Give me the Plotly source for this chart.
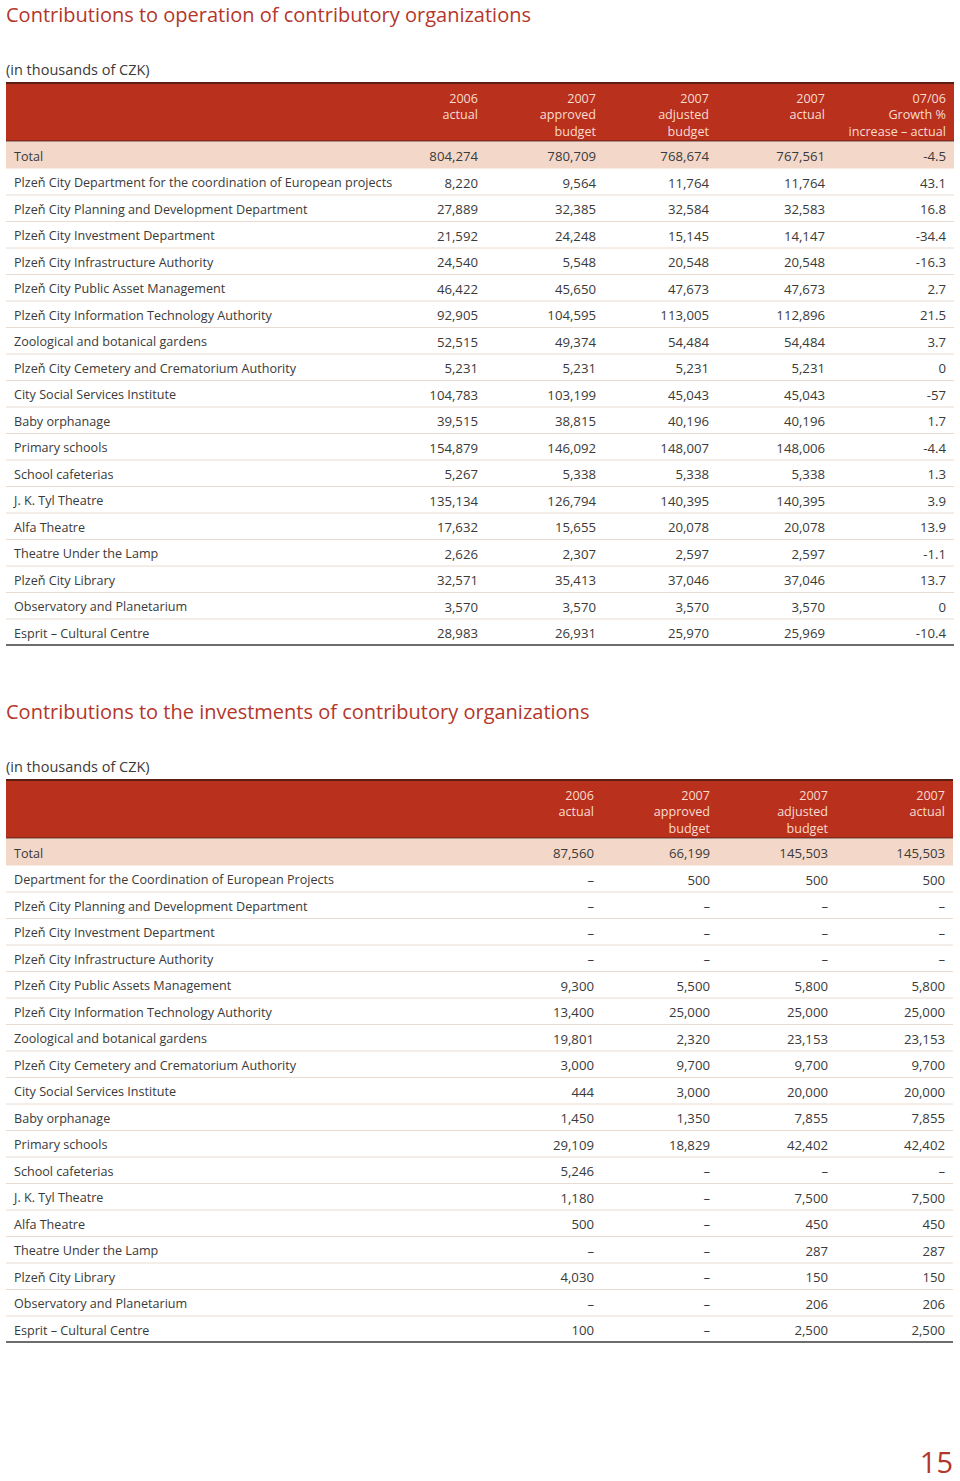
import plotly.graph_objects as go

# ---------------- data ----------------
title_op = "Contributions to operation of contributory organizations"
title_inv = "Contributions to the investments of contributory organizations"
unit_note = "(in thousands of CZK)"
page_number = "15"

headers_op = ["2006<br>actual", "2007<br>approved<br>budget", "2007<br>adjusted<br>budget",
              "2007<br>actual", "07/06<br>Growth %<br>increase – actual"]
labels_op = ["Total",
             "Plzeň City Department for the coordination of European projects",
             "Plzeň City Planning and Development Department",
             "Plzeň City Investment Department",
             "Plzeň City Infrastructure Authority",
             "Plzeň City Public Asset Management",
             "Plzeň City Information Technology Authority",
             "Zoological and botanical gardens",
             "Plzeň City Cemetery and Crematorium Authority",
             "City Social Services Institute",
             "Baby orphanage",
             "Primary schools",
             "School cafeterias",
             "J. K. Tyl Theatre",
             "Alfa Theatre",
             "Theatre Under the Lamp",
             "Plzeň City Library",
             "Observatory and Planetarium",
             "Esprit – Cultural Centre"]
actual_2006_op = [804274, 8220, 27889, 21592, 24540, 46422, 92905, 52515, 5231, 104783,
                  39515, 154879, 5267, 135134, 17632, 2626, 32571, 3570, 28983]
approved_2007_op = [780709, 9564, 32385, 24248, 5548, 45650, 104595, 49374, 5231, 103199,
                    38815, 146092, 5338, 126794, 15655, 2307, 35413, 3570, 26931]
adjusted_2007_op = [768674, 11764, 32584, 15145, 20548, 47673, 113005, 54484, 5231, 45043,
                    40196, 148007, 5338, 140395, 20078, 2597, 37046, 3570, 25970]
actual_2007_op = [767561, 11764, 32583, 14147, 20548, 47673, 112896, 54484, 5231, 45043,
                  40196, 148006, 5338, 140395, 20078, 2597, 37046, 3570, 25969]
growth_op = [-4.5, 43.1, 16.8, -34.4, -16.3, 2.7, 21.5, 3.7, 0, -57, 1.7, -4.4, 1.3, 3.9,
             13.9, -1.1, 13.7, 0, -10.4]

headers_inv = ["2006<br>actual", "2007<br>approved<br>budget", "2007<br>adjusted<br>budget",
               "2007<br>actual"]
labels_inv = ["Total",
              "Department for the Coordination of European Projects",
              "Plzeň City Planning and Development Department",
              "Plzeň City Investment Department",
              "Plzeň City Infrastructure Authority",
              "Plzeň City Public Assets Management",
              "Plzeň City Information Technology Authority",
              "Zoological and botanical gardens",
              "Plzeň City Cemetery and Crematorium Authority",
              "City Social Services Institute",
              "Baby orphanage",
              "Primary schools",
              "School cafeterias",
              "J. K. Tyl Theatre",
              "Alfa Theatre",
              "Theatre Under the Lamp",
              "Plzeň City Library",
              "Observatory and Planetarium",
              "Esprit – Cultural Centre"]
actual_2006_inv = [87560, None, None, None, None, 9300, 13400, 19801, 3000, 444, 1450,
                   29109, 5246, 1180, 500, None, 4030, None, 100]
approved_2007_inv = [66199, 500, None, None, None, 5500, 25000, 2320, 9700, 3000, 1350,
                     18829, None, None, None, None, None, None, None]
adjusted_2007_inv = [145503, 500, None, None, None, 5800, 25000, 23153, 9700, 20000, 7855,
                     42402, None, 7500, 450, 287, 150, 206, 2500]
actual_2007_inv = [145503, 500, None, None, None, 5800, 25000, 23153, 9700, 20000, 7855,
                   42402, None, 7500, 450, 287, 150, 206, 2500]

# ---------------- style ----------------
FONT = "Open Sans"
RED = "#b9301d"
TITLE_RED = "#b3372b"
HEAD_TXT = "#f8dccf"
TOTAL_FILL = "#f3d8ca"
SEP = "#e9dbd0"
TXT = "#3a3a3a"
LABEL_SIZE = 12.6
NUM_SIZE = 13.2
HEAD_SIZE = 12.6
ROW_H = 26.5
TXT_DY = 2.5

fig = go.Figure()
shapes = []


def fmt_int(v):
    return "–" if v is None else f"{v:,}"


def fmt_pct(v):
    return f"{v:g}"


def text_trace(xs, ys, texts, pos, size, color):
    fig.add_trace(go.Scatter(x=xs, y=ys, text=texts, mode="text", textposition=pos,
                             textfont=dict(family=FONT, size=size, color=color),
                             hoverinfo="skip", cliponaxis=False, showlegend=False))


def build_table(title, title_y, note_y, head_top, headers, col_right, labels, columns,
                left, right):
    text_trace([left], [title_y], [title], "middle right", 20, TITLE_RED)
    text_trace([left], [note_y], [unit_note], "middle right", 14.5, TXT)
    head_bot = head_top + 58
    shapes.append(dict(type="rect", xref="x", yref="y", x0=left, x1=right, y0=head_top,
                       y1=head_bot, fillcolor=RED, line=dict(width=0), layer="below"))
    shapes.append(dict(type="line", xref="x", yref="y", x0=left, x1=right, y0=head_top,
                       y1=head_top, line=dict(color="#5a2016", width=2)))
    shapes.append(dict(type="line", xref="x", yref="y", x0=left, x1=right, y0=head_bot,
                       y1=head_bot, line=dict(color="#5a2016", width=1)))
    for h, xr in zip(headers, col_right):
        parts = h.split("<br>")
        text_trace([xr] * len(parts),
                   [head_top + 14 + TXT_DY + 16.5 * j for j in range(len(parts))],
                   parts, "middle left", HEAD_SIZE, HEAD_TXT)
    body_top = head_bot + 1
    n = len(labels)
    ys = [body_top + ROW_H * (i + 0.5) + TXT_DY for i in range(n)]
    shapes.append(dict(type="rect", xref="x", yref="y", x0=left, x1=right, y0=body_top,
                       y1=body_top + ROW_H, fillcolor=TOTAL_FILL, line=dict(width=0),
                       layer="below"))
    for i in range(1, n - 1):
        yb = body_top + ROW_H * (i + 1)
        shapes.append(dict(type="line", xref="x", yref="y", x0=left, x1=right, y0=yb, y1=yb,
                           line=dict(color=SEP, width=1), layer="below"))
    yb = body_top + ROW_H * n - 0.5
    shapes.append(dict(type="line", xref="x", yref="y", x0=left, x1=right, y0=yb, y1=yb,
                       line=dict(color="#3c3c3c", width=1.5)))
    text_trace([left + 8] * n, ys, labels, "middle right", LABEL_SIZE, TXT)
    for (vals, f), xr in zip(columns, col_right):
        text_trace([xr] * n, ys, [f(v) for v in vals], "middle left", NUM_SIZE, TXT)


build_table(title_op, 17, 71, 83, headers_op, [478, 596, 709, 825, 946], labels_op,
            [(actual_2006_op, fmt_int), (approved_2007_op, fmt_int),
             (adjusted_2007_op, fmt_int), (actual_2007_op, fmt_int), (growth_op, fmt_pct)],
            6, 954)
build_table(title_inv, 714, 768, 780, headers_inv, [594, 710, 828, 945], labels_inv,
            [(actual_2006_inv, fmt_int), (approved_2007_inv, fmt_int),
             (adjusted_2007_inv, fmt_int), (actual_2007_inv, fmt_int)],
            6, 953)

text_trace([953], [1466], [page_number], "middle left", 29, TITLE_RED)

fig.update_layout(
    width=960, height=1481,
    margin=dict(l=0, r=0, t=0, b=0),
    paper_bgcolor="white", plot_bgcolor="white",
    xaxis=dict(range=[0, 960], visible=False, fixedrange=True),
    yaxis=dict(range=[1481, 0], visible=False, fixedrange=True),
    shapes=shapes,
    showlegend=False,
)
fig.write_html("out.html", config={"displayModeBar": False},
               post_script="document.body.style.margin='0';")
